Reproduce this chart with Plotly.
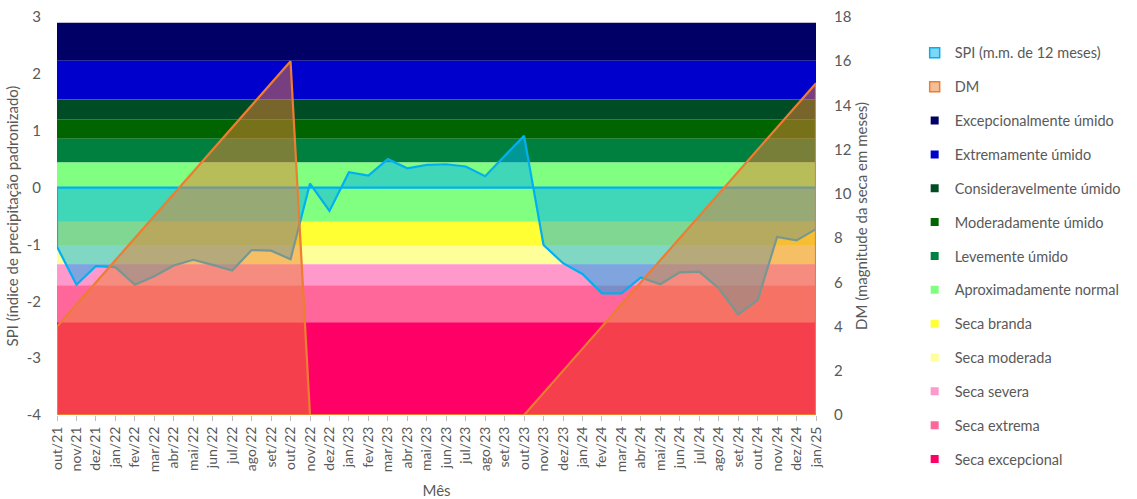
import plotly.graph_objects as go

# Month labels (x categories)
months = [
    "out/21", "nov/21", "dez/21",
    "jan/22", "fev/22", "mar/22", "abr/22", "mai/22", "jun/22",
    "jul/22", "ago/22", "set/22", "out/22", "nov/22", "dez/22",
    "jan/23", "fev/23", "mar/23", "abr/23", "mai/23", "jun/23",
    "jul/23", "ago/23", "set/23", "out/23", "nov/23", "dez/23",
    "jan/24", "fev/24", "mar/24", "abr/24", "mai/24", "jun/24",
    "jul/24", "ago/24", "set/24", "out/24", "nov/24", "dez/24",
    "jan/25",
]

# SPI, 12-month moving mean
spi = [
    -1.04, -1.71, -1.38, -1.40, -1.71, -1.56, -1.37, -1.27, -1.36, -1.46,
    -1.10, -1.11, -1.26, 0.07, -0.41, 0.27, 0.21, 0.50, 0.34, 0.40,
    0.41, 0.37, 0.20, 0.56, 0.91, -1.01, -1.33, -1.52, -1.86, -1.86,
    -1.58, -1.70, -1.49, -1.48, -1.77, -2.23, -1.98, -0.87, -0.93, -0.73,
]

# Drought magnitude (months)
dm = [
    4, 5, 6, 7, 8, 9, 10, 11, 12, 13, 14, 15, 16,
    0, 0, 0, 0, 0, 0, 0, 0, 0, 0, 0, 0,
    1, 2, 3, 4, 5, 6, 7, 8, 9, 10, 11, 12, 13, 14, 15,
]

# SPI classes, top to bottom
band_names = [
    "Excepcionalmente úmido", "Extremamente úmido", "Consideravelmente úmido",
    "Moderadamente úmido", "Levemente úmido", "Aproximadamente normal",
    "Seca branda", "Seca moderada", "Seca severa", "Seca extrema",
    "Seca excepcional",
]
band_colors = [
    "#000066", "#0000CC", "#004C24", "#006400", "#00803F", "#80FF80",
    "#FFFF33", "#FFFF99", "#FF99CC", "#FF6699", "#FF0066",
]
band_edges = [2.9, 2.23, 1.55, 1.2, 0.86, 0.44, -0.6, -1.01, -1.35, -1.72, -2.37, -4.0]

spi_ticks = [-4, -3, -2, -1, 0, 1, 2, 3]
dm_ticks = [0, 2, 4, 6, 8, 10, 12, 14, 16, 18]

FONT = "Lato"
GREY = "#595959"

fig = go.Figure()

x0, x1 = months[0], months[-1]

# Background class bands
for name, color, top, bottom in zip(band_names, band_colors, band_edges[:-1], band_edges[1:]):
    fig.add_trace(go.Scatter(
        x=[x0, x1, x1, x0, x0], y=[bottom, bottom, top, top, bottom],
        mode="lines", fill="toself", fillcolor=color, line=dict(width=0),
        hoverinfo="skip", showlegend=False,
    ))

# SPI area (filled between 0 and the series, outlined like an area chart)
fig.add_trace(go.Scatter(
    x=months + [x1, x0, x0], y=spi + [0, 0, spi[0]],
    mode="lines", fill="toself", fillcolor="rgba(0,176,240,0.5)",
    line=dict(color="#00B0F0", width=2.2), showlegend=False, hoverinfo="skip",
))

# DM area on the secondary axis
fig.add_trace(go.Scatter(
    x=months + [x1, x0, x0], y=dm + [0, 0, dm[0]], yaxis="y2",
    mode="lines", fill="toself", fillcolor="rgba(237,125,49,0.5)",
    line=dict(color="#ED7D31", width=2.2), showlegend=False, hoverinfo="skip",
))

# Legend entries
def legend_entry(name, fill, edge, size, width):
    fig.add_trace(go.Scatter(
        x=[None], y=[None], mode="markers", name=name, legendgroup=name,
        marker=dict(symbol="square", size=size, color=fill, line=dict(color=edge, width=width)),
    ))

legend_entry("SPI (m.m. de 12 meses)", "rgba(0,176,240,0.5)", "#00B0F0", 10, 1.5)
legend_entry("DM", "rgba(237,125,49,0.5)", "#ED7D31", 10, 1.5)
for name, color in zip(band_names, band_colors):
    legend_entry(name, color, color, 8, 0)

fig.update_layout(
    width=1137, height=499,
    margin=dict(l=57, r=321, t=17, b=84, autoexpand=False),
    paper_bgcolor="white", plot_bgcolor="white",
    font=dict(family=FONT, size=15, color=GREY),
    showlegend=True,
    legend=dict(
        x=1.13, y=0.95, xanchor="left", yanchor="top",
        traceorder="grouped", tracegroupgap=12, maxheight=490,
        font=dict(family=FONT, size=14.5, color=GREY),
        itemclick=False, itemdoubleclick=False,
    ),
    xaxis=dict(
        type="category", categoryorder="array", categoryarray=months,
        range=[0, len(months) - 1], automargin=False,
        tickangle=-90, ticks="outside", ticklen=5, tickcolor="#BFBFBF",
        tickfont=dict(size=14, color=GREY), showgrid=False, zeroline=False,
        title=dict(text="Mês", standoff=15, font=dict(size=15, color=GREY)),
    ),
    yaxis=dict(
        range=[-4, 3], tickvals=spi_ticks, ticktext=[str(v) for v in spi_ticks],
        ticks="outside", ticklen=12, tickcolor="rgba(0,0,0,0)", automargin=False,
        showgrid=False, zeroline=False,
        title=dict(text="SPI (índice de precipitação padronizado)", standoff=4,
                   font=dict(size=15, color=GREY)),
    ),
    yaxis2=dict(
        overlaying="y", side="right", range=[0, 18], automargin=False,
        tickvals=dm_ticks, ticktext=[str(v) for v in dm_ticks],
        ticks="outside", ticklen=14, tickcolor="rgba(0,0,0,0)",
        showgrid=False, zeroline=False,
        title=dict(text="DM (magnitude da seca em meses)", standoff=4,
                   font=dict(size=15, color=GREY)),
    ),
)

fig.write_html("out.html")
